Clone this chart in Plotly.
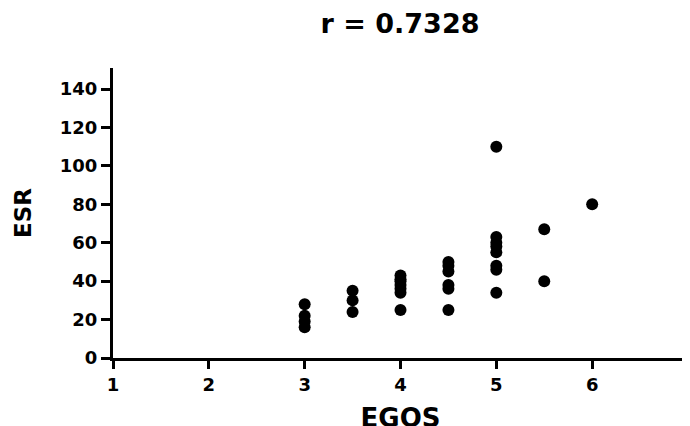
import plotly.graph_objects as go

# EGOS score groups and ESR values
egos = [3, 3, 3, 3,
        3.5, 3.5, 3.5,
        4, 4, 4, 4, 4, 4, 4,
        4.5, 4.5, 4.5, 4.5, 4.5, 4.5,
        5, 5, 5, 5, 5, 5, 5, 5,
        5.5, 5.5,
        6]
esr = [28, 22, 19, 16,
       35, 30, 24,
       43, 41, 40, 38, 36, 34, 25,
       50, 48, 45, 38, 36, 25,
       110, 63, 60, 58, 55, 48, 46, 34,
       67, 40,
       80]

title_text = "r = 0.7328"
x_label = "EGOS"
y_label = "ESR"
x_ticks = [1, 2, 3, 4, 5, 6, 7]
y_ticks = [0, 20, 40, 60, 80, 100, 120, 140]

FONT = "DejaVu Sans, Liberation Sans, Arial, sans-serif"
W, H = 690, 426
OFF = 8  # page body margin offset

fig = go.Figure(go.Scatter(
    x=egos, y=esr, mode="markers",
    marker=dict(color="black", size=12, symbol="circle"),
    showlegend=False,
))

fig.update_layout(
    width=W, height=H,
    margin=dict(l=105, r=10, t=60, b=76),
    paper_bgcolor="white", plot_bgcolor="white",
    font=dict(family=FONT, color="black", weight="bold"),
    title=dict(text=title_text, x=(400 - OFF) / W, xanchor="center",
               y=1 - (24 - OFF) / H, yanchor="middle",
               font=dict(size=27, family=FONT, color="black", weight="bold")),
)

fig.update_xaxes(
    range=[1, 7], tickvals=x_ticks, ticktext=[str(t) for t in x_ticks],
    showgrid=False, zeroline=False, automargin=False,
    showline=True, linecolor="black", linewidth=3,
    ticks="outside", ticklen=8, tickwidth=3, tickcolor="black",
    tickfont=dict(size=18, family=FONT, weight="bold"),
    title=dict(text=x_label, font=dict(size=26, family=FONT, weight="bold"), standoff=16),
)
fig.update_yaxes(
    range=[0, 151], tickvals=y_ticks, ticktext=[str(t) for t in y_ticks],
    showgrid=False, zeroline=False, automargin=False,
    showline=True, linecolor="black", linewidth=3,
    ticks="outside", ticklen=9, tickwidth=3, tickcolor="black",
    tickfont=dict(size=18, family=FONT, weight="bold"),
    title=dict(text=y_label, font=dict(size=23, family=FONT, weight="bold"), standoff=22),
)

fig.write_html("out.html")
